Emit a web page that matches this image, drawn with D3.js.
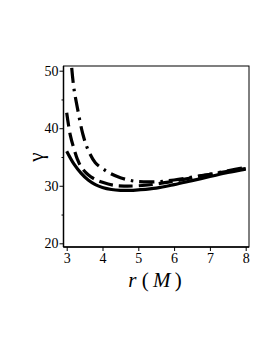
<!DOCTYPE html>
<html lang="en">
<head>
  <meta charset="UTF-8">
  <script src="https://d3js.org/d3.v7.min.js"></script>
  <style>
    body { margin: 0; background: #fff; }
    .tick text { font-family: "Liberation Serif", serif; font-size: 14px; }
  </style>
  <title>gamma vs r</title>
</head>
<body>
  <div id="chart"></div>
  <script>
    // data
    var rSolid = [3.0, 3.2, 3.4, 3.6, 3.8, 4.0, 4.25, 4.5, 4.75, 5.0, 5.5, 6.0, 6.5, 7.0, 7.5, 8.0];
    var gSolid = [36.0, 33.8, 32.2, 31.0, 30.2, 29.7, 29.35, 29.2, 29.2, 29.3, 29.6, 30.2, 30.9, 31.6, 32.3, 32.9];

    var rDash = [3.0, 3.1, 3.2, 3.3, 3.4, 3.6, 3.8, 4.0, 4.3, 4.6, 5.0, 5.5, 6.0, 6.5, 7.0, 7.5, 8.0];
    var gDash = [42.7, 38.8, 36.5, 34.6, 33.3, 31.9, 31.1, 30.6, 30.1, 29.95, 30.0, 30.3, 30.8, 31.4, 32.0, 32.5, 33.0];

    var rDashDot = [3.14, 3.2, 3.3, 3.45, 3.6, 3.8, 4.0, 4.2, 4.5, 4.9, 5.5, 6.0, 6.5, 7.0, 7.5, 8.0];
    var gDashDot = [50.5, 47.0, 43.5, 39.0, 36.2, 34.0, 33.0, 32.2, 31.4, 30.8, 30.7, 31.0, 31.5, 32.0, 32.6, 33.2];

    var xTicks = [3, 4, 5, 6, 7, 8];
    var yTicks = [20, 30, 40, 50];
    var yMinor = [25, 35, 45];

    var width = 273, height = 353;
    var box = { left: 63.5, right: 249, top: 66, bottom: 247 };

    var svg = d3.select("#chart").append("svg")
        .attr("width", width)
        .attr("height", height);

    var x = d3.scaleLinear().domain([3, 8]).range([66.7, 245.7]);
    var y = d3.scaleLinear().domain([20, 50]).range([243.3, 70.7]);

    svg.append("clipPath").attr("id", "clip")
      .append("rect")
        .attr("x", box.left).attr("y", box.top)
        .attr("width", box.right - box.left)
        .attr("height", box.bottom - box.top);

    // frame
    svg.append("rect")
        .attr("x", box.left).attr("y", box.top)
        .attr("width", box.right - box.left)
        .attr("height", box.bottom - box.top)
        .attr("fill", "none")
        .attr("stroke", "#000")
        .attr("stroke-width", 1);

    // x axis
    var xAxis = svg.append("g")
        .attr("transform", "translate(0," + box.bottom + ")")
        .call(d3.axisBottom(x).tickValues(xTicks).tickFormat(d3.format("d")).tickSize(4).tickPadding(2));
    xAxis.select(".domain").attr("d", "M" + box.left + ",0H" + box.right).attr("stroke-width", 1.5);

    // y axis
    var yAxis = svg.append("g")
        .attr("transform", "translate(" + box.left + ",0)")
        .call(d3.axisLeft(y).tickValues(yTicks).tickFormat(d3.format("d")).tickSize(4).tickPadding(1));
    yAxis.select(".domain").attr("d", "M0," + box.top + "V" + box.bottom).attr("stroke-width", 1.5);

    svg.append("g")
        .attr("transform", "translate(" + box.left + ",0)")
        .call(d3.axisLeft(y).tickValues(yMinor).tickSize(2).tickFormat(""))
        .select(".domain").remove();

    // curves
    var line = d3.line()
        .x(function(d) { return x(d[0]); })
        .y(function(d) { return y(d[1]); })
        .curve(d3.curveCatmullRom);

    var series = [
      { r: rSolid, g: gSolid, dash: null },
      { r: rDash, g: gDash, dash: "14,6" },
      { r: rDashDot, g: gDashDot, dash: "15,6,2.5,6" }
    ];

    svg.append("g").attr("clip-path", "url(#clip)")
      .selectAll("path")
      .data(series)
      .enter().append("path")
        .attr("d", function(s) { return line(d3.zip(s.r, s.g)); })
        .attr("fill", "none")
        .attr("stroke", "#000")
        .attr("stroke-width", 3.2)
        .attr("stroke-dasharray", function(s) { return s.dash; });

    // labels
    svg.append("text")
        .attr("transform", "translate(38,157) rotate(-90)")
        .attr("text-anchor", "middle")
        .attr("dominant-baseline", "middle")
        .attr("font-family", "Liberation Serif, serif")
        .attr("font-size", 21)
        .text("γ");

    var xl = svg.append("text")
        .attr("x", 155)
        .attr("y", 287)
        .attr("text-anchor", "middle")
        .attr("font-family", "Liberation Serif, serif")
        .attr("font-size", 21)
        .attr("xml:space", "preserve");
    xl.append("tspan").attr("font-style", "italic").text("r");
    xl.append("tspan").text(" (\u2009");
    xl.append("tspan").attr("font-style", "italic").text("M");
    xl.append("tspan").text("\u2009)");
  </script>
</body>
</html>
